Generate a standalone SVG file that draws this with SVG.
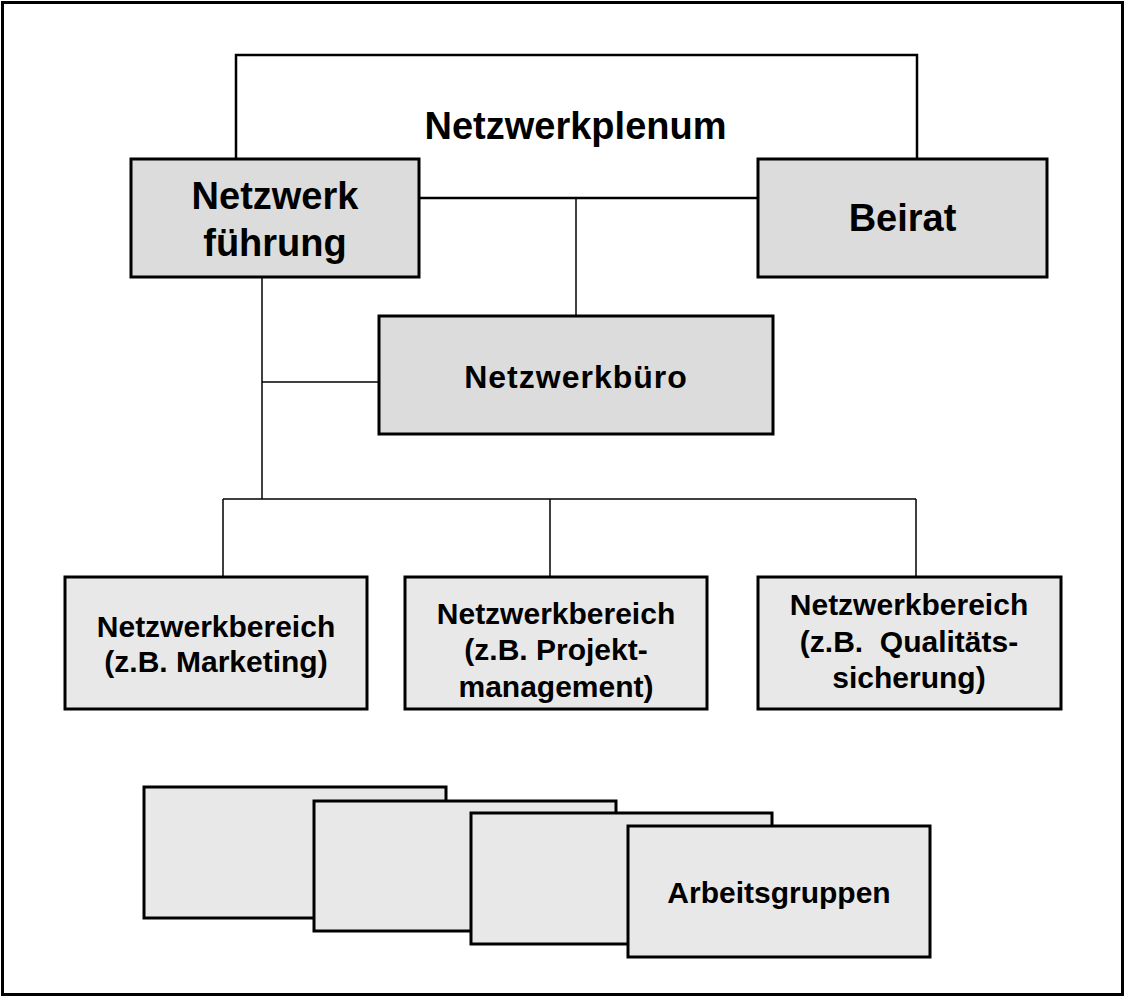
<svg xmlns="http://www.w3.org/2000/svg" width="1126" height="997" viewBox="0 0 1126 997">
<style>
text{font-family:"Liberation Sans",Arial,sans-serif;font-weight:bold;fill:#000;text-anchor:middle}
.big{font-size:38px}
.mid{font-size:32px;letter-spacing:1px}
.sm{font-size:30px}
.boxA{fill:#dcdcdc;stroke:#000;stroke-width:3}
.boxB{fill:#e8e8e8;stroke:#000;stroke-width:3}
.thick{fill:none;stroke:#000;stroke-width:2.5}
.thin{fill:none;stroke:#000;stroke-width:1.5}
</style>
<rect x="0" y="0" width="1126" height="997" fill="#fff"/>
<rect id="frame" x="2.5" y="2.5" width="1120" height="992" fill="none" stroke="#000" stroke-width="3"/>
<g id="connectors">
<path class="thick" d="M236,159 V55 H917 V159"/>
<path class="thick" d="M419,198 H758"/>
<path class="thin" d="M576,198 V316"/>
<path class="thin" d="M262,277 V499"/>
<path class="thin" d="M262,382 H379"/>
<path class="thin" d="M223,499 H916"/>
<path class="thin" d="M223,499 V577 M550,499 V577 M916,499 V577"/>
</g>
<g id="plenum">
<text class="big" x="575.5" y="139">Netzwerkplenum</text>
</g>
<g id="fuehrung">
<rect class="boxA" x="131" y="159" width="288" height="118"/>
<text class="big" x="275" y="209">Netzwerk</text>
<text class="big" x="275" y="256">führung</text>
</g>
<g id="beirat">
<rect class="boxA" x="758" y="159" width="289" height="118"/>
<text class="big" x="902.5" y="231">Beirat</text>
</g>
<g id="buero">
<rect class="boxA" x="379" y="316" width="394" height="118"/>
<text class="mid" x="576" y="388">Netzwerkbüro</text>
</g>
<g id="bereich1">
<rect class="boxB" x="65" y="577" width="302" height="132"/>
<text class="sm" x="216" y="637">Netzwerkbereich</text>
<text class="sm" x="216" y="672">(z.B. Marketing)</text>
</g>
<g id="bereich2">
<rect class="boxB" x="405" y="577" width="302" height="132"/>
<text class="sm" x="556" y="624">Netzwerkbereich</text>
<text class="sm" x="556" y="660">(z.B. Projekt-</text>
<text class="sm" x="556" y="697">management)</text>
</g>
<g id="bereich3">
<rect class="boxB" x="758" y="577" width="303" height="132"/>
<text class="sm" x="909" y="615">Netzwerkbereich</text>
<text class="sm" x="909" y="652" style="white-space:pre">(z.B.  Qualitäts-</text>
<text class="sm" x="909" y="688">sicherung)</text>
</g>
<g id="arbeitsgruppen">
<rect class="boxB" x="144" y="787" width="302" height="131"/>
<rect class="boxB" x="314" y="801" width="302" height="130"/>
<rect class="boxB" x="471" y="813" width="301" height="131"/>
<rect class="boxB" x="628" y="826" width="302" height="131"/>
<text class="sm" x="779" y="903">Arbeitsgruppen</text>
</g>
</svg>
